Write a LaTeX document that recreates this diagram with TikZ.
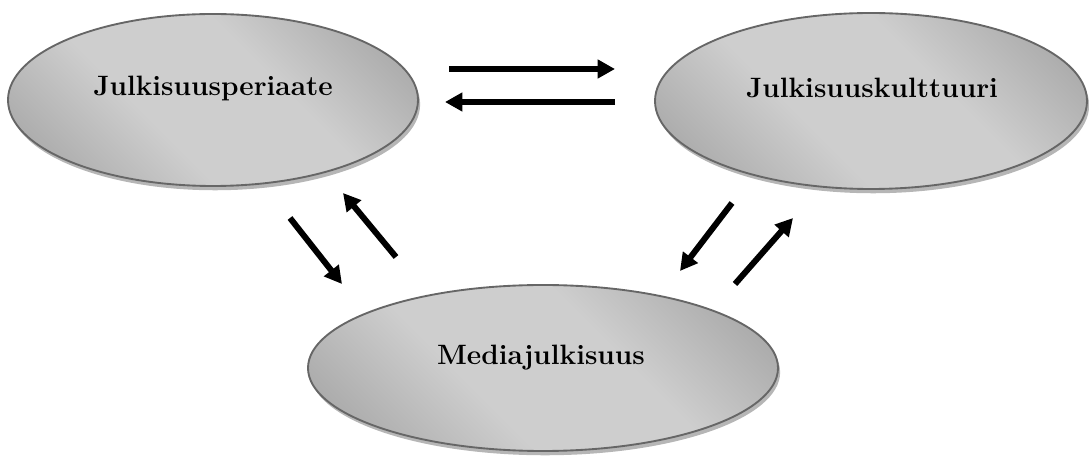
\documentclass[tikz,border=0pt]{standalone}
\usetikzlibrary{arrows.meta,shapes.geometric,shadows}

\definecolor{ovdark}{RGB}{118,118,118}
\definecolor{ovmid}{RGB}{160,160,160}
\definecolor{ovlight}{RGB}{206,206,206}
\definecolor{ovrim}{RGB}{102,102,102}
\definecolor{ovshadow}{RGB}{182,182,182}

% diagonal gradient: darker towards two opposite corners, light band through the middle
\pgfdeclarehorizontalshading{ovalfill}{100bp}{color(0bp)=(ovdark); color(16bp)=(ovmid); color(40bp)=(ovlight); color(60bp)=(ovlight); color(84bp)=(ovmid); color(100bp)=(ovdark)}

\tikzset{
  oval/.style={ellipse, inner sep=0pt, draw=ovrim, line width=1.4pt,
    shading=ovalfill, shading angle=45,
    drop shadow={shadow xshift=1.6pt, shadow yshift=-3.2pt, fill=ovshadow, opacity=1}},
  ovaltext/.style={anchor=base, font=\fontsize{21}{25}\selectfont\bfseries, inner sep=0pt},
  flow/.style={line width=4.5pt, -{Triangle[length=13pt,width=13.5pt]}}
}

\begin{document}
\begin{tikzpicture}[x=0.75pt, y=-0.75pt]
  \useasboundingbox (0,0) rectangle (1089,459);

  % the three concepts
  \node[oval, minimum width=307.5pt, minimum height=129pt] (prin) at (213,100) {};
  \node[oval, minimum width=324pt, minimum height=132pt] (cult) at (871,101) {};
  \node[oval, minimum width=352.5pt, minimum height=124.5pt] (media) at (543,368) {};

  \node[ovaltext] (prinT) at (213,96) {Julkisuusperiaate};
  \node[ovaltext] (cultT) at (872,98) {Julkisuuskulttuuri};
  \node[ovaltext] (mediaT) at (541,365) {Mediajulkisuus};

  % arrow end points between the ovals
  \coordinate (pc1) at (449,69);   \coordinate (pc2) at (615,69);
  \coordinate (cp1) at (615,102);  \coordinate (cp2) at (445,102);
  \coordinate (pm1) at (290,218);  \coordinate (pm2) at (342,284);
  \coordinate (mp1) at (396,257);  \coordinate (mp2) at (343,193);
  \coordinate (cm1) at (732,203);  \coordinate (cm2) at (680,271);
  \coordinate (mc1) at (735,284);  \coordinate (mc2) at (793,218);

  \draw[flow] (pc1) -- (pc2);
  \draw[flow] (cp1) -- (cp2);
  \draw[flow] (pm1) -- (pm2);
  \draw[flow] (mp1) -- (mp2);
  \draw[flow] (cm1) -- (cm2);
  \draw[flow] (mc1) -- (mc2);
\end{tikzpicture}
\end{document}
